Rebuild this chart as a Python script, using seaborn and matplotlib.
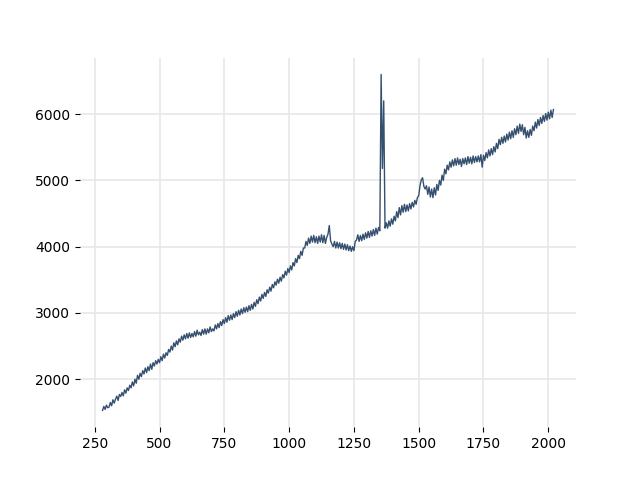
import numpy as np
import pandas as pd
import matplotlib
matplotlib.use("Agg")
import matplotlib.pyplot as plt
import seaborn as sns

x_start = 280
x_step = 5

values = [
    1530, 1590, 1545, 1610, 1570, 1580, 1650, 1600, 1690, 1640,
    1700, 1745, 1680, 1770, 1740, 1800, 1750, 1840, 1790, 1870,
    1830, 1910, 1870, 1960, 1900, 2000, 1940, 2060, 2000, 2090,
    2040, 2130, 2080, 2170, 2100, 2190, 2130, 2230, 2150, 2250,
    2200, 2280, 2230, 2300, 2250, 2340, 2280, 2380, 2320, 2400,
    2360, 2450, 2410, 2500, 2440, 2550, 2490, 2580, 2520, 2610,
    2560, 2650, 2590, 2670, 2610, 2690, 2620, 2700, 2630, 2690,
    2640, 2720, 2650, 2740, 2670, 2710, 2660, 2750, 2680, 2760,
    2680, 2760, 2700, 2790, 2720, 2760, 2730, 2820, 2760, 2840,
    2780, 2870, 2810, 2900, 2840, 2930, 2860, 2960, 2890, 2970,
    2900, 2990, 2930, 3020, 2950, 3040, 2970, 3060, 2990, 3080,
    3010, 3090, 3020, 3110, 3040, 3130, 3060, 3160, 3100, 3200,
    3140, 3240, 3180, 3280, 3220, 3310, 3250, 3350, 3300, 3390,
    3330, 3430, 3380, 3470, 3420, 3510, 3450, 3540, 3480, 3580,
    3530, 3630, 3570, 3670, 3610, 3710, 3650, 3760, 3710, 3820,
    3760, 3870, 3820, 3930, 3870, 3980, 3980, 4080, 4020, 4130,
    4050, 4160, 4070, 4170, 4060, 4150, 4050, 4160, 4070, 4180,
    4060, 4170, 4050, 4140, 4190, 4320, 4090, 4040, 4000, 4080,
    3980, 4070, 3980, 4060, 3970, 4050, 3960, 4040, 3950, 4030,
    3940, 4010, 3930, 4000, 3940, 4080, 4100, 4180, 4080, 4170,
    4090, 4190, 4110, 4210, 4130, 4230, 4140, 4240, 4160, 4260,
    4170, 4280, 4190, 4290, 4240, 6600, 5180, 6200, 4280, 4360,
    4280, 4390, 4310, 4420, 4340, 4460, 4390, 4530, 4440, 4590,
    4480, 4620, 4520, 4640, 4530, 4630, 4540, 4650, 4570, 4670,
    4600, 4700, 4640, 4740, 4770, 4920, 5010, 5040, 4910, 4870,
    4920, 4790, 4900, 4750, 4870, 4740, 4890, 4780, 4940, 4850,
    5000, 4930, 5080, 5000, 5170, 5100, 5230, 5160, 5280, 5200,
    5310, 5220, 5330, 5230, 5340, 5240, 5320, 5210, 5330, 5250,
    5340, 5240, 5360, 5260, 5350, 5250, 5370, 5270, 5360, 5280,
    5370, 5280, 5390, 5200, 5380, 5300, 5420, 5340, 5460, 5370,
    5480, 5390, 5510, 5430, 5560, 5480, 5620, 5540, 5650, 5560,
    5670, 5580, 5700, 5610, 5730, 5630, 5750, 5650, 5780, 5690,
    5820, 5710, 5850, 5740, 5840, 5690, 5800, 5640, 5750, 5650,
    5770, 5680, 5820, 5750, 5880, 5790, 5920, 5830, 5950, 5860,
    5980, 5890, 6010, 5910, 6030, 5930, 6060, 5950, 6070,
]

x_values = x_start + x_step * np.arange(len(values))
df = pd.DataFrame({"x": x_values, "y": values})

fig, ax = plt.subplots(figsize=(6.4, 4.8), dpi=100)
sns.lineplot(data=df, x="x", y="y", ax=ax, color="#35506f", linewidth=1.0)

ax.grid(True, color="#e8e8e8", linewidth=1.2)
ax.set_axisbelow(True)
for s in ax.spines.values():
    s.set_visible(False)
ax.set_xlabel("")
ax.set_ylabel("")
ax.set_xticks([250, 500, 750, 1000, 1250, 1500, 1750, 2000])
ax.set_yticks([2000, 3000, 4000, 5000, 6000])

fig.savefig("out.png", dpi=100)
